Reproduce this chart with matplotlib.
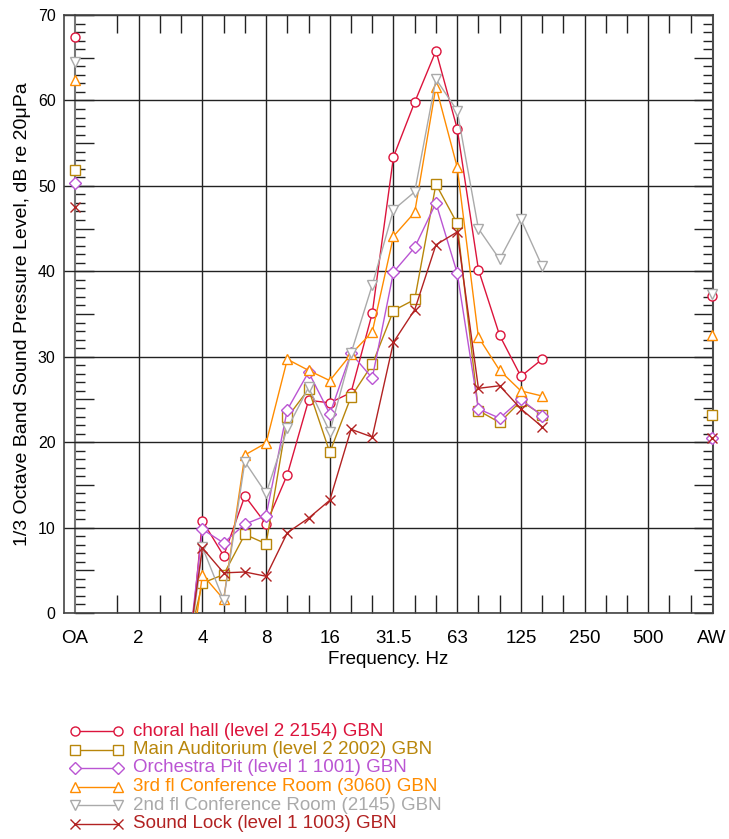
import matplotlib
matplotlib.use("Agg")
import matplotlib.pyplot as plt
from matplotlib.lines import Line2D
from matplotlib.ticker import MultipleLocator, FixedLocator, NullFormatter
import numpy as np

plt.rcParams['font.family'] = ['Liberation Sans', 'DejaVu Sans']

# x positions: 1/3-octave band index (OA = 0, "2" Hz = 3, ..., AW = 30)
tick_pos = [0, 3, 6, 9, 12, 15, 18, 21, 24, 27, 30]
tick_labels = ["OA", "2", "4", "8", "16", "31.5", "63", "125", "250", "500", "AW"]

# band positions for spectra: 3.15 Hz (5) ... 160 Hz (22)
bands = list(range(5, 23))

names = ["choral hall (level 2 2154) GBN",
         "Main Auditorium (level 2 2002) GBN",
         "Orchestra Pit (level 1 1001) GBN",
         "3rd fl Conference Room (3060) GBN",
         "2nd fl Conference Room (2145) GBN",
         "Sound Lock (level 1 1003) GBN"]
colors = ["#DC143C", "#B8860B", "#BA55D3", "#FF8C00", "#AAAAAA", "#B22222"]
markers = ["o", "s", "D", "^", "v", "x"]

choral = [-15, 10.8, 6.7, 13.7, 10.4, 16.2, 24.9, 24.6, 25.8, 35.1, 53.4, 59.8, 65.8, 56.7, 40.2, 32.5, 27.7, 29.7]
main_aud = [-7, 3.5, 4.5, 9.2, 8.1, 22.9, 26.2, 18.8, 25.3, 29.1, 35.4, 36.7, 50.2, 45.6, 23.7, 22.3, 24.8, 23.2]
orch_pit = [-12, 9.8, 8.2, 10.4, 11.4, 23.8, 28.2, 23.3, 30.4, 27.5, 39.9, 42.8, 48.0, 39.8, 23.9, 22.8, 25.0, 23.1]
conf3 = [-14, 4.5, 1.6, 18.5, 19.9, 29.7, 28.4, 27.2, 30.3, 32.9, 44.1, 46.9, 61.6, 52.2, 32.3, 28.4, 26.0, 25.4]
conf2 = [-12, 7.7, 1.5, 17.7, 14.0, 21.6, 26.4, 21.2, 30.4, 38.4, 47.2, 49.3, 62.5, 58.8, 45.0, 41.4, 46.1, 40.6]
sound_lock = [-10, 7.6, 4.7, 4.8, 4.3, 9.4, 11.1, 13.2, 21.5, 20.6, 31.7, 35.5, 43.1, 44.6, 26.3, 26.6, 23.9, 21.8]

oa_values = [67.4, 51.9, 50.3, 62.4, 64.5, 47.5]
aw_values = [37.1, 23.2, 20.5, 32.6, 37.3, 20.5]

series = [choral, main_aud, orch_pit, conf3, conf2, sound_lock]

W, H = 729, 839
fig = plt.figure(figsize=(W / 100, H / 100), dpi=100)
L, R, T, B = 64, 713, 15, 613
ax = fig.add_axes([L / W, 1 - B / H, (R - L) / W, (B - T) / H])

ax.set_xlim(-0.52, 30.05)
ax.set_ylim(0, 70)

ms = 6.5
for vals, c, m, oa, aw in zip(series, colors, markers, oa_values, aw_values):
    mfc = "white" if m != "x" else c
    ax.plot(bands, vals, color=c, lw=1.0, marker=m, ms=ms, mfc=mfc, mec=c, mew=1.0, zorder=3)
    ax.plot([tick_pos[0]], [oa], linestyle="none", marker=m, ms=ms, mfc=mfc, mec=c, mew=1.0,
            zorder=4, clip_on=False)
    ax.plot([tick_pos[-1]], [aw], linestyle="none", marker=m, ms=ms, mfc=mfc, mec=c, mew=1.0,
            zorder=4, clip_on=False)

# grid
ax.set_yticks(range(0, 71, 10))
ax.grid(True, color="#222222", lw=1.0)
ax.set_axisbelow(True)
for s in ax.spines.values():
    s.set_color("#444444")
    s.set_linewidth(1.2)

ax.xaxis.set_major_locator(FixedLocator(tick_pos))
ax.set_xticklabels(tick_labels, fontsize=13.5)
ax.xaxis.get_gridlines()[0].set_visible(False)
ax.xaxis.get_gridlines()[-1].set_visible(False)
ax.tick_params(axis="x", which="major", length=0, pad=12)
minor_x = [p for p in range(2, 30) if p % 3 != 0]
ax.xaxis.set_minor_locator(FixedLocator(minor_x))
ax.tick_params(axis="x", which="minor", direction="in", length=13, width=1.0,
               color="#222222", top=True, bottom=True)
ax.tick_params(axis="y", which="major", length=0, pad=6, labelsize=11.5)

ax.set_xlabel("Frequency. Hz", fontsize=13.5, labelpad=3)
ax.set_ylabel("1/3 Octave Band Sound Pressure Level, dB re 20\u03bcPa", fontsize=14, labelpad=5)

# OA vertical axis and right axis with ticks
oa_frac = (0 - (-0.52)) / (30.05 + 0.52)
for loc in [oa_frac, "right"]:
    sec = ax.secondary_yaxis(loc)
    sec.yaxis.set_major_locator(MultipleLocator(5))
    sec.yaxis.set_minor_locator(MultipleLocator(1))
    sec.yaxis.set_major_formatter(NullFormatter())
    sec.yaxis.set_minor_formatter(NullFormatter())
    sec.tick_params(which="major", direction="in", length=14, width=1.0, color="#222222")
    sec.tick_params(which="minor", direction="in", length=7.5, width=1.0, color="#222222")
    for s in sec.spines.values():
        s.set_color("#777777")
        s.set_linewidth(1.5)

# legend (manual rows)
row_y = [731, 749.5, 768, 786.5, 805, 823.5]
for name, c, m, y in zip(names, colors, markers, row_y):
    yf = 1 - y / H
    mfc = "white" if m != "x" else c
    fig.add_artist(Line2D([75 / W, 118 / W], [yf, yf], color=c, lw=1.0, marker=m, ms=ms,
                          mfc=mfc, mec=c, mew=1.0, transform=fig.transFigure))
    fig.text(133 / W, yf, name, color=c, fontsize=13.5, va="center", ha="left")

fig.savefig("out.png", dpi=100)
